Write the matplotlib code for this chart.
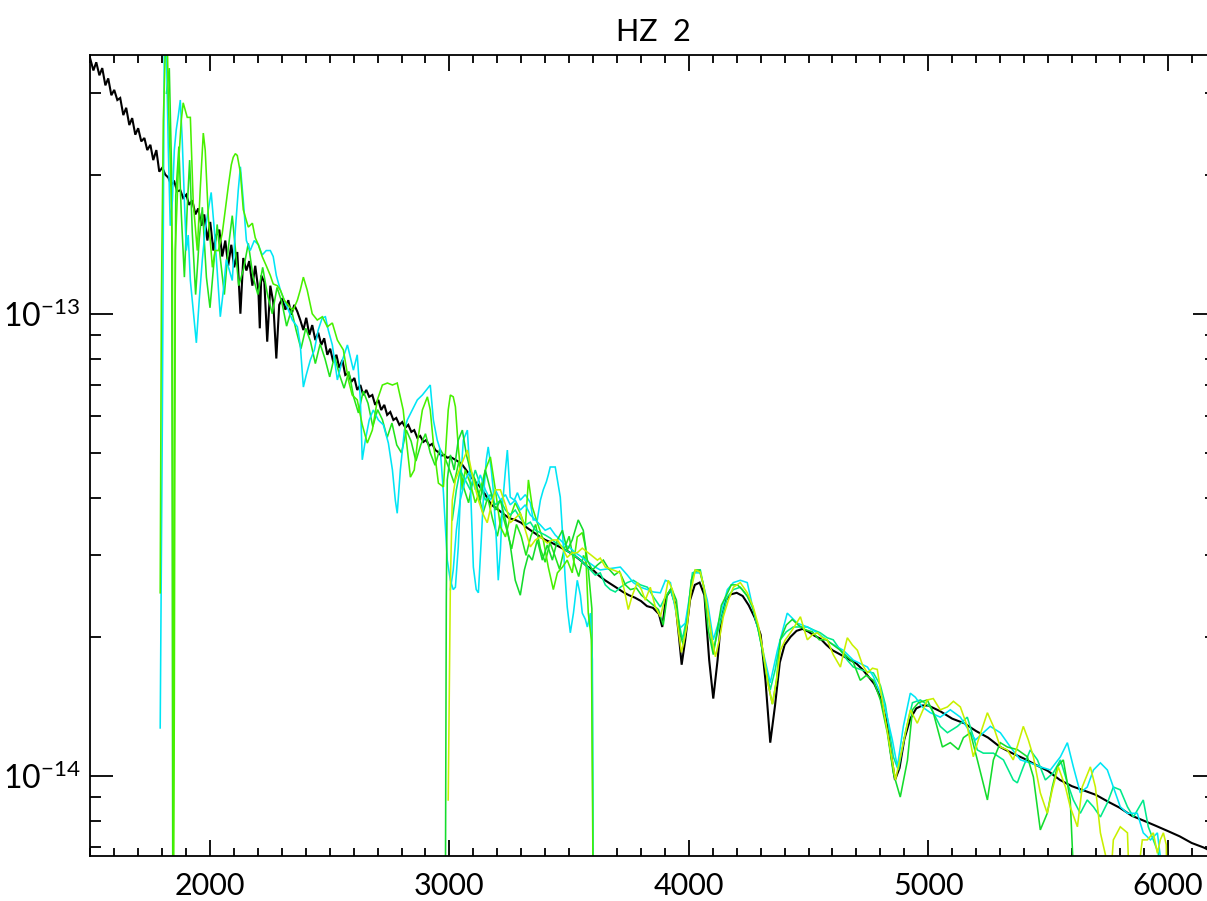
import matplotlib
matplotlib.use("Agg")
import matplotlib.pyplot as plt
from matplotlib.ticker import MultipleLocator, FixedLocator, NullFormatter

SCALE = 1e-14  # fluxes below are in units of 1e-14
TITLE = "HZ  2"

# reference (model) spectrum: (wavelength, flux/1e-14)
ref_uv = [(1500, 35.6), (1513, 33.6), (1525, 35.0), (1538, 32.8), (1550, 34.0), (1563, 31.2), (1575, 32.3), (1588, 29.7),
          (1600, 30.5), (1613, 29.0), (1625, 29.3), (1638, 26.9), (1650, 27.9), (1663, 25.6), (1675, 26.5), (1688, 24.4),
          (1700, 25.2), (1713, 23.6), (1726, 24.0), (1738, 22.6), (1751, 23.2), (1763, 21.5), (1776, 22.6), (1788, 20.3),
          (1801, 20.7), (1813, 20.0), (1826, 19.7), (1838, 19.0), (1851, 19.3), (1863, 18.4), (1876, 18.5), (1888, 17.8),
          (1901, 18.1), (1913, 17.2), (1926, 17.6), (1939, 16.4), (1951, 16.9), (1964, 15.5), (1976, 16.4), (1989, 14.4),
          (2001, 15.8), (2014, 13.7), (2026, 14.8), (2039, 15.2), (2051, 13.3), (2064, 14.4), (2076, 12.7), (2089, 14.1),
          (2101, 12.6), (2114, 13.6), (2127, 10.0), (2139, 13.2), (2152, 12.4), (2164, 13.0), (2177, 11.5), (2189, 12.7),
          (2202, 11.25), (2208, 9.3), (2214, 12.1), (2227, 11.7), (2239, 8.7), (2252, 11.5), (2264, 10.6), (2277, 8.0),
          (2289, 10.45), (2302, 10.8), (2315, 10.2), (2327, 10.7), (2340, 9.95), (2352, 10.45), (2365, 10.1), (2377, 9.69),
          (2390, 9.22), (2402, 9.8), (2415, 9.0), (2427, 9.45), (2440, 8.77), (2452, 9.1), (2465, 8.56), (2477, 8.85),
          (2490, 8.15), (2502, 8.4), (2515, 7.86), (2528, 8.15), (2540, 7.63), (2553, 7.94), (2565, 7.37), (2578, 7.44),
          (2590, 7.12), (2603, 7.26), (2615, 6.84), (2628, 7.01), (2640, 6.67), (2653, 6.84), (2665, 6.61), (2678, 6.67),
          (2690, 6.35), (2703, 6.51), (2715, 6.19), (2728, 6.35), (2740, 6.04), (2753, 6.13), (2766, 5.89), (2778, 5.95),
          (2791, 5.75), (2803, 5.83), (2816, 5.67), (2828, 5.75), (2841, 5.55), (2853, 5.60), (2866, 5.39), (2878, 5.44),
          (2891, 5.28), (2903, 5.33), (2916, 5.18), (2928, 5.23), (2941, 5.07), (2953, 5.02), (2966, 4.93), (2978, 4.95),
          (2991, 4.88), (3004, 4.90)]
ref_opt = [(3025, 4.83), (3050, 4.74), (3075, 4.55), (3100, 4.37), (3125, 4.24), (3150, 4.06), (3175, 3.86), (3200, 3.78),
           (3225, 3.69), (3250, 3.61), (3275, 3.58), (3300, 3.53), (3325, 3.44), (3350, 3.37), (3375, 3.30), (3400, 3.24),
           (3425, 3.20), (3450, 3.15), (3475, 3.10), (3500, 3.05), (3525, 2.99), (3550, 2.92), (3575, 2.84), (3600, 2.79),
           (3625, 2.71), (3650, 2.65), (3675, 2.60), (3700, 2.55), (3725, 2.50), (3750, 2.46), (3775, 2.43), (3800, 2.39),
           (3825, 2.33), (3850, 2.31), (3875, 2.24), (3889, 2.10), (3905, 2.44), (3925, 2.53), (3945, 2.34), (3960, 1.97),
           (3970, 1.74), (3985, 1.97), (4005, 2.40), (4025, 2.59), (4045, 2.62), (4065, 2.46), (4085, 1.78), (4102, 1.47),
           (4120, 1.78), (4135, 2.18), (4155, 2.40), (4175, 2.47), (4200, 2.49), (4225, 2.45), (4250, 2.34), (4275, 2.20),
           (4300, 2.02), (4320, 1.61), (4340, 1.18), (4360, 1.42), (4380, 1.76), (4400, 1.92), (4425, 2.00), (4450, 2.06),
           (4475, 2.08), (4500, 2.05), (4525, 2.01), (4550, 1.98), (4575, 1.92), (4600, 1.87), (4625, 1.84), (4650, 1.81),
           (4675, 1.78), (4700, 1.75), (4725, 1.70), (4750, 1.64), (4775, 1.58), (4800, 1.48), (4825, 1.32), (4845, 1.11),
           (4861, 0.98), (4880, 1.04), (4900, 1.20), (4925, 1.33), (4950, 1.40), (4975, 1.42), (5000, 1.42), (5025, 1.40),
           (5050, 1.38), (5100, 1.33), (5150, 1.30), (5200, 1.25), (5250, 1.21), (5300, 1.155), (5350, 1.12), (5400, 1.09),
           (5450, 1.056), (5500, 1.025), (5550, 0.98), (5600, 0.95), (5650, 0.93), (5700, 0.91), (5750, 0.88), (5800, 0.853),
           (5850, 0.82), (5900, 0.80), (5950, 0.78), (6000, 0.76), (6050, 0.74), (6100, 0.716), (6150, 0.70), (6200, 0.68)]

# observed spectra (wavelength, flux/1e-14)
uv_cyan = [(1792, 1.27), (1801, 5.89), (1809, 38.0), (1817, 39.0), (1826, 22.6), (1834, 15.5), (1843, 17.6), (1851, 22.6),
           (1859, 25.0), (1868, 26.9), (1876, 29.0), (1884, 23.8), (1893, 17.6), (1901, 13.7), (1909, 14.8), (1918, 11.8),
           (1926, 10.7), (1934, 9.69), (1943, 8.65), (1955, 10.7), (1968, 13.1), (1980, 15.2), (1993, 16.8), (2005, 18.3),
           (2018, 15.2), (2030, 12.4), (2043, 9.85), (2056, 11.25), (2068, 13.1), (2081, 12.4), (2093, 11.8), (2106, 15.2),
           (2118, 18.5), (2127, 20.8), (2139, 17.6), (2152, 14.4), (2168, 13.7), (2185, 14.4), (2202, 14.1), (2218, 13.4),
           (2235, 13.7), (2252, 13.7), (2264, 13.3), (2277, 12.1), (2294, 11.25), (2310, 10.7), (2327, 10.2), (2344, 9.69),
           (2365, 9.37), (2377, 8.56), (2390, 6.94), (2402, 7.37), (2419, 7.94), (2436, 8.35), (2452, 9.22), (2469, 9.8),
           (2482, 9.85), (2494, 9.22), (2511, 8.56), (2532, 7.19), (2553, 7.94), (2574, 8.56), (2599, 7.55), (2615, 8.15),
           (2628, 6.51), (2636, 4.83), (2649, 5.33), (2665, 5.89), (2682, 6.19), (2703, 5.89), (2724, 5.75), (2745, 5.25),
           (2762, 4.59), (2774, 3.95), (2782, 3.70), (2795, 4.59), (2812, 5.60), (2824, 5.89), (2845, 6.19), (2866, 6.51),
           (2887, 6.67), (2904, 6.84), (2920, 7.01), (2933, 5.89), (2949, 5.33), (2962, 5.07), (2975, 4.10), (2991, 2.93),
           (3004, 2.65), (3016, 2.53), (3025, 2.56), (3037, 3.13), (3050, 4.59), (3058, 5.33), (3075, 5.60), (3087, 4.37),
           (3100, 2.83), (3112, 2.53), (3121, 2.49), (3133, 3.24), (3142, 4.01), (3154, 4.83), (3162, 5.15), (3175, 4.59),
           (3183, 4.16), (3196, 3.24), (3204, 2.65), (3213, 3.08), (3221, 3.82), (3234, 4.59), (3242, 5.07), (3254, 4.01),
           (3271, 3.95), (3284, 4.10), (3296, 3.95), (3317, 4.06), (3338, 3.90), (3350, 3.58), (3367, 3.58), (3380, 3.95),
           (3392, 4.16), (3405, 4.33), (3413, 4.48), (3421, 4.66), (3442, 4.66), (3451, 4.37), (3463, 4.01), (3476, 3.13),
           (3484, 2.65), (3492, 2.32), (3505, 2.04), (3518, 2.25), (3534, 2.65), (3547, 2.46), (3555, 2.25), (3568, 2.18),
           (3576, 2.10), (3589, 2.25), (3597, 1.78), (3601, 0.5)]
uv_lime = [(1792, 2.49), (1797, 10.7), (1805, 26.2), (1813, 36.3), (1822, 38.1), (1826, 29.0), (1834, 21.5), (1843, 13.7),
           (1847, 0.4), (1851, 1.46), (1855, 13.7), (1868, 20.8), (1880, 26.2), (1888, 28.6), (1905, 26.6), (1918, 26.6),
           (1930, 17.4), (1947, 13.7), (1959, 18.5), (1972, 24.6), (1980, 22.6), (1993, 16.2), (2010, 12.6), (2022, 13.7),
           (2035, 13.7), (2051, 14.9), (2064, 16.8), (2076, 18.8), (2089, 21.0), (2097, 21.8), (2106, 22.2), (2114, 22.0),
           (2127, 20.2), (2139, 16.8), (2152, 15.9), (2160, 15.4), (2177, 15.7), (2189, 14.6), (2202, 14.1), (2218, 13.3),
           (2235, 12.7), (2252, 12.1), (2264, 11.6), (2281, 11.5), (2294, 11.25), (2310, 10.7), (2323, 10.5), (2335, 10.3),
           (2348, 10.2), (2365, 10.7), (2377, 11.25), (2390, 12.0), (2406, 11.25), (2427, 10.0), (2448, 9.69), (2469, 9.85),
           (2490, 9.37), (2511, 9.55), (2532, 8.77), (2557, 8.35), (2578, 7.19), (2594, 6.67), (2615, 6.51), (2636, 5.75),
           (2657, 5.25), (2678, 5.60), (2699, 6.51), (2720, 7.01), (2741, 7.08), (2762, 7.01), (2782, 7.08), (2807, 6.19),
           (2820, 5.33), (2837, 4.43), (2853, 4.59), (2866, 5.25), (2887, 6.19), (2908, 6.61), (2920, 6.19), (2933, 5.25),
           (2954, 4.30), (2975, 4.22), (2987, 5.33), (2995, 6.19), (3004, 6.67), (3016, 6.61), (3025, 6.29), (3037, 5.15),
           (3054, 4.16), (3066, 4.59), (3087, 4.30), (3108, 3.90), (3129, 4.16), (3150, 4.59), (3171, 4.90), (3192, 4.16),
           (3213, 3.46), (3234, 3.29), (3254, 3.63), (3275, 3.90), (3296, 3.70), (3317, 3.46), (3330, 4.37), (3346, 3.82),
           (3367, 3.53), (3392, 3.24), (3413, 2.83), (3434, 2.53), (3451, 2.75), (3472, 2.83), (3492, 2.93), (3513, 2.75),
           (3534, 3.29), (3555, 3.36), (3568, 3.13), (3580, 2.25), (3593, 1.97), (3601, 0.5)]
uv_green = [(1818, 30.0), (1830, 34.0), (1840, 20.0), (1845, 0.4), (1851, 5.0), (1857, 18.0), (1870, 23.0), (1880, 16.5),
            (1893, 12.0), (1905, 17.0), (1915, 21.5), (1926, 15.0), (1940, 11.0), (1955, 14.5), (1968, 17.0), (1985, 12.0),
            (2000, 10.3), (2014, 12.5), (2030, 15.6), (2043, 13.2), (2060, 11.0), (2076, 13.8), (2093, 16.3), (2105, 14.0),
            (2120, 11.5), (2140, 12.5), (2160, 14.2), (2180, 12.0), (2200, 11.0), (2220, 12.6), (2240, 11.0), (2260, 10.0),
            (2280, 11.4), (2300, 10.6), (2320, 9.4), (2340, 10.2), (2360, 9.2), (2380, 8.4), (2400, 9.3), (2420, 8.7),
            (2440, 7.8), (2460, 8.6), (2480, 8.0), (2500, 7.3), (2520, 8.1), (2540, 7.4), (2560, 6.9), (2580, 7.5),
            (2600, 6.6), (2620, 6.1), (2640, 6.8), (2660, 6.4), (2680, 5.7), (2700, 6.2), (2720, 5.9), (2740, 5.4),
            (2760, 5.8), (2780, 5.2), (2800, 5.0), (2820, 5.6), (2840, 5.3), (2860, 4.8), (2880, 5.2), (2900, 5.5),
            (2920, 5.0), (2940, 4.7), (2960, 5.1), (2980, 4.9), (3000, 4.6), (3020, 4.3), (3040, 4.8), (3060, 4.2),
            (3080, 3.9), (3100, 4.4), (3120, 4.1), (3140, 3.7), (3160, 4.0), (3180, 3.6), (3200, 3.3), (3220, 3.7),
            (3240, 3.4), (3260, 3.1), (3280, 3.5), (3300, 3.3), (3320, 3.0), (3340, 3.3), (3360, 3.5), (3380, 3.1),
            (3400, 2.9), (3420, 3.2), (3440, 3.0), (3460, 2.8), (3480, 3.1), (3500, 3.3), (3520, 2.9), (3540, 2.7),
            (3560, 3.0), (3580, 2.8), (3595, 2.3), (3601, 0.5)]
opt_green = [(2983, 0.5), (2987, 2.40), (2991, 4.37), (3004, 4.95), (3020, 4.59), (3037, 5.33), (3054, 5.60), (3071, 4.95),
             (3087, 4.59), (3108, 4.37), (3129, 3.95), (3150, 4.59), (3171, 4.16), (3192, 3.76), (3213, 3.95), (3234, 3.58),
             (3254, 3.16), (3275, 2.65), (3296, 2.46), (3313, 2.79), (3330, 3.01), (3346, 2.93), (3367, 3.24), (3388, 2.93),
             (3409, 3.16), (3430, 2.93), (3451, 3.24), (3472, 3.40), (3492, 3.08), (3513, 3.24), (3538, 3.58), (3559, 3.40),
             (3576, 2.93), (3597, 2.79), (3618, 2.86), (3643, 2.93), (3664, 2.81), (3689, 2.72), (3710, 2.77), (3735, 2.59),
             (3756, 2.53), (3781, 2.55), (3802, 2.46), (3827, 2.40), (3852, 2.34), (3873, 2.29), (3893, 2.12), (3910, 2.46),
             (3927, 2.55), (3948, 2.40), (3964, 2.02), (3977, 1.92), (3994, 2.18), (4010, 2.65), (4027, 2.79), (4044, 2.79),
             (4061, 2.59), (4081, 2.07), (4102, 1.83), (4119, 2.07), (4136, 2.34), (4157, 2.46), (4177, 2.59), (4203, 2.59),
             (4223, 2.53), (4244, 2.45), (4265, 2.34), (4286, 2.12), (4307, 1.87), (4328, 1.61), (4349, 1.43), (4366, 1.61),
             (4382, 1.97), (4407, 2.12), (4432, 2.18), (4457, 2.12), (4487, 2.07), (4516, 2.05), (4545, 1.97), (4574, 1.97),
             (4603, 1.92), (4633, 1.87), (4662, 1.81), (4687, 1.76), (4716, 1.61), (4741, 1.65), (4771, 1.61), (4800, 1.46),
             (4829, 1.24), (4854, 1.015), (4883, 0.90), (4913, 1.08), (4934, 1.39), (4959, 1.44), (4996, 1.46), (5021, 1.37),
             (5059, 1.155), (5092, 1.18), (5126, 1.14), (5147, 1.21), (5176, 1.24), (5205, 1.083), (5247, 0.887), (5272, 1.083),
             (5301, 1.18), (5330, 1.155), (5372, 1.14), (5414, 1.10), (5439, 0.995), (5468, 0.764), (5497, 0.83), (5518, 0.946),
             (5539, 1.046), (5564, 1.083), (5593, 0.887), (5614, 0.5)]
opt_yellow = [(2995, 0.887), (2999, 1.46), (3004, 2.62), (3012, 3.95), (3025, 4.37), (3041, 4.59), (3058, 4.83), (3075, 5.07),
              (3087, 4.71), (3100, 4.37), (3121, 3.95), (3142, 3.67), (3158, 3.53), (3175, 3.86), (3192, 4.16), (3213, 4.16),
              (3234, 3.86), (3254, 3.53), (3275, 3.61), (3296, 3.70), (3317, 3.40), (3338, 3.13), (3359, 3.24), (3380, 3.29),
              (3409, 3.19), (3430, 3.24), (3451, 3.24), (3472, 3.11), (3492, 2.97), (3513, 3.04), (3534, 3.04), (3555, 3.11),
              (3576, 3.05), (3597, 2.99), (3618, 2.93), (3630, 2.96), (3651, 2.83), (3684, 2.79), (3714, 2.75), (3730, 2.53),
              (3747, 2.29), (3764, 2.46), (3785, 2.62), (3802, 2.53), (3818, 2.40), (3839, 2.56), (3860, 2.32), (3881, 2.21),
              (3898, 2.40), (3914, 2.65), (3931, 2.53), (3944, 2.32), (3956, 2.07), (3969, 1.85), (3981, 1.97), (3994, 2.14),
              (4010, 2.53), (4027, 2.79), (4048, 2.76), (4065, 2.53), (4077, 2.32), (4094, 2.02), (4111, 1.81), (4127, 1.97),
              (4144, 2.21), (4165, 2.40), (4186, 2.56), (4215, 2.62), (4244, 2.49), (4269, 2.32), (4290, 2.12), (4311, 1.85),
              (4332, 1.57), (4349, 1.43), (4366, 1.61), (4382, 1.87), (4403, 1.97), (4424, 2.04), (4445, 2.12), (4466, 2.21),
              (4482, 2.07), (4495, 1.97), (4516, 2.02), (4537, 2.04), (4558, 1.99), (4578, 1.97), (4603, 1.83), (4633, 1.72),
              (4649, 1.87), (4662, 1.99), (4683, 1.92), (4704, 1.87), (4725, 1.74), (4746, 1.67), (4767, 1.71), (4787, 1.70),
              (4812, 1.41), (4842, 1.138), (4863, 0.98), (4892, 1.155), (4925, 1.39), (4954, 1.30), (4996, 1.46), (5021, 1.47),
              (5050, 1.39), (5080, 1.41), (5105, 1.45), (5134, 1.41), (5163, 1.28), (5188, 1.10), (5209, 1.196), (5247, 1.37),
              (5272, 1.28), (5301, 1.155), (5330, 1.138), (5355, 1.083), (5397, 1.28), (5418, 1.196), (5439, 1.10), (5468, 0.919),
              (5497, 0.83), (5518, 0.933), (5543, 1.046), (5573, 0.946), (5593, 0.857), (5623, 0.776), (5643, 0.946), (5677, 1.046),
              (5698, 0.946), (5719, 0.753), (5740, 0.675), (5752, 0.5), (5773, 0.727), (5802, 0.776), (5832, 0.753), (5844, 0.5),
              (5865, 0.55), (5894, 0.727), (5915, 0.727), (5940, 0.753), (5957, 0.68), (5969, 0.727), (5982, 0.753), (5994, 0.71),
              (5999, 0.5)]
opt_spring = [(3012, 3.58), (3029, 4.16), (3045, 4.59), (3066, 4.37), (3087, 4.16), (3108, 4.59), (3129, 4.26), (3150, 3.95),
              (3171, 4.06), (3192, 3.86), (3213, 3.95), (3234, 3.76), (3254, 3.67), (3275, 3.76), (3296, 3.61), (3317, 3.49),
              (3338, 3.54), (3359, 3.40), (3380, 3.36), (3400, 3.32), (3421, 3.27), (3442, 3.20), (3463, 3.16), (3484, 3.08),
              (3505, 3.04), (3526, 2.99), (3547, 2.93), (3568, 2.86), (3589, 2.79), (3609, 2.72), (3630, 2.75), (3651, 2.59),
              (3672, 2.53), (3693, 2.50), (3714, 2.56), (3743, 2.62), (3768, 2.65), (3798, 2.59), (3827, 2.56), (3852, 2.44),
              (3881, 2.32), (3902, 2.44), (3923, 2.53), (3948, 2.29), (3973, 1.97), (3994, 2.23), (4015, 2.75), (4048, 2.79),
              (4073, 2.40), (4102, 1.87), (4123, 2.07), (4161, 2.44), (4186, 2.53), (4215, 2.56), (4244, 2.45), (4269, 2.29),
              (4290, 2.07), (4311, 1.83), (4340, 1.535), (4361, 1.70), (4382, 1.97), (4407, 2.05), (4436, 2.10), (4466, 2.10),
              (4495, 2.10), (4520, 2.07), (4549, 2.04), (4578, 1.99), (4603, 1.97), (4633, 1.87), (4662, 1.78), (4687, 1.72),
              (4716, 1.70), (4746, 1.68), (4771, 1.67), (4800, 1.57), (4821, 1.425), (4854, 1.10), (4875, 1.03), (4904, 1.24),
              (4934, 1.44), (4967, 1.46), (5009, 1.41), (5050, 1.28), (5080, 1.24), (5122, 1.28), (5163, 1.34), (5205, 1.138),
              (5230, 1.12), (5272, 1.12), (5314, 1.083), (5355, 0.98), (5372, 0.966), (5397, 1.046), (5426, 1.138), (5456, 1.083),
              (5489, 0.98), (5522, 1.015), (5552, 1.083), (5581, 0.966), (5606, 0.887), (5635, 0.83), (5664, 0.887), (5690, 0.857),
              (5719, 0.815), (5748, 0.874), (5773, 0.946), (5802, 0.933), (5832, 0.857), (5857, 0.815), (5898, 0.887), (5919, 0.776),
              (5940, 0.727), (5961, 0.68), (5969, 0.5)]
opt_cyan = [(3004, 2.53), (3016, 2.79), (3029, 3.40), (3045, 3.95), (3066, 4.37), (3087, 4.59), (3108, 4.16), (3129, 4.48),
            (3150, 4.16), (3171, 3.95), (3192, 4.16), (3213, 3.95), (3234, 4.06), (3254, 3.86), (3275, 3.95), (3296, 3.76),
            (3317, 3.86), (3338, 3.67), (3359, 3.58), (3380, 3.49), (3400, 3.40), (3421, 3.44), (3442, 3.32), (3463, 3.24),
            (3484, 3.16), (3505, 3.11), (3526, 3.04), (3547, 2.99), (3568, 2.93), (3589, 2.88), (3609, 2.83), (3630, 2.79),
            (3672, 2.81), (3714, 2.83), (3743, 2.72), (3768, 2.62), (3798, 2.56), (3827, 2.53), (3852, 2.50), (3881, 2.49),
            (3902, 2.65), (3923, 2.62), (3944, 2.29), (3964, 2.09), (3985, 2.14), (4019, 2.75), (4048, 2.75), (4077, 2.40),
            (4102, 1.97), (4123, 2.14), (4161, 2.53), (4186, 2.62), (4215, 2.65), (4244, 2.62), (4269, 2.29), (4290, 2.07),
            (4311, 1.85), (4340, 1.59), (4370, 1.87), (4411, 2.25), (4453, 2.14), (4495, 2.10), (4537, 2.04), (4591, 1.94),
            (4645, 1.87), (4687, 1.78), (4746, 1.72), (4771, 1.64), (4812, 1.46), (4850, 1.196), (4871, 1.046), (4896, 1.28),
            (4925, 1.51), (4946, 1.48), (4975, 1.41), (5009, 1.37), (5050, 1.34), (5092, 1.39), (5134, 1.34), (5176, 1.24),
            (5197, 1.196), (5230, 1.24), (5259, 1.28), (5301, 1.24), (5343, 1.155), (5385, 1.083), (5426, 1.067), (5468, 1.046),
            (5510, 1.03), (5552, 1.10), (5581, 1.18), (5606, 1.046), (5635, 0.919), (5664, 0.946), (5690, 1.03), (5719, 1.067),
            (5748, 1.03), (5773, 0.946), (5802, 0.857), (5832, 0.83), (5873, 0.83), (5898, 0.753), (5928, 0.727), (5957, 0.753),
            (5969, 0.67), (5978, 0.5)]

# axis ticks
x_major = [2000, 3000, 4000, 5000, 6000]
y_major = [1e-14, 1e-13]
y_minor = [7e-15, 8e-15, 9e-15, 2e-14, 3e-14, 4e-14, 5e-14, 6e-14, 7e-14, 8e-14, 9e-14, 2e-13, 3e-13]

series = [
    (ref_uv + ref_opt, "#000000", 1.5),
    (uv_green, "#22e41c", 1.15),
    (uv_cyan, "#00e5f5", 1.15),
    (uv_lime, "#48f000", 1.15),
    (opt_spring, "#00ea8a", 1.15),
    (opt_cyan, "#00e5f5", 1.15),
    (opt_green, "#14dc2c", 1.15),
    (opt_yellow, "#c8f000", 1.15),
]

plt.rcParams["font.family"] = ["Lato", "DejaVu Sans"]
plt.rcParams["font.weight"] = "normal"
plt.rcParams["mathtext.fontset"] = "custom"
plt.rcParams["mathtext.rm"] = "Lato"
plt.rcParams["mathtext.it"] = "Lato"
plt.rcParams["mathtext.default"] = "regular"

fig = plt.figure(figsize=(12.07, 9.01), dpi=100)
ax = fig.add_axes([0.0748, 0.0503, 0.9323, 0.8887])

for data, color, lw in series:
    wl = [p[0] for p in data]
    fx = [p[1] * SCALE for p in data]
    ax.plot(wl, fx, color=color, lw=lw, solid_joinstyle="miter")

ax.set_yscale("log")
ax.set_xlim(1500, 6200)
ax.set_ylim(6.72e-15, 3.63e-13)

ax.xaxis.set_major_locator(FixedLocator(x_major))
ax.xaxis.set_minor_locator(MultipleLocator(100))
ax.yaxis.set_major_locator(FixedLocator(y_major))
ax.yaxis.set_minor_locator(FixedLocator(y_minor))
ax.yaxis.set_minor_formatter(NullFormatter())

for sp in ax.spines.values():
    sp.set_linewidth(1.3)

ax.tick_params(which="both", direction="in", top=True, right=True, width=1.3, colors="black")
ax.tick_params(axis="x", which="major", length=11.5, labelsize=22, pad=12)
ax.tick_params(axis="x", which="minor", length=5.8)
ax.tick_params(axis="y", which="major", length=16.5, labelsize=23, pad=7)
ax.tick_params(axis="y", which="minor", length=8)

ax.set_title(TITLE, fontsize=22, pad=10)

fig.savefig("out.png", dpi=100)
